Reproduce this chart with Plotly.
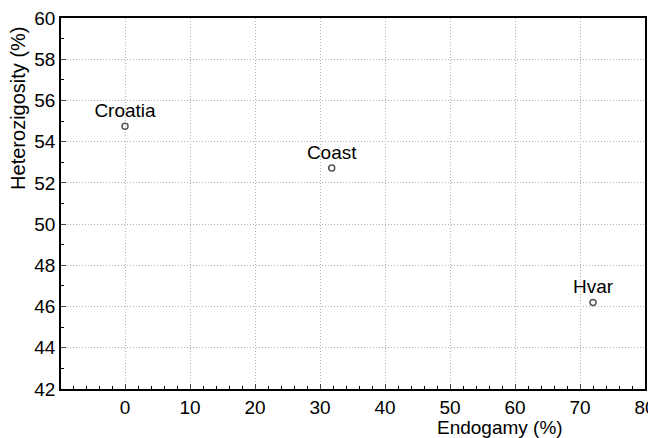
import plotly.graph_objects as go

regions = ["Croatia", "Coast", "Hvar"]
endogamy = [0.0, 31.8, 72.0]
heterozygosity = [54.75, 52.72, 46.2]

x_ticks = [0, 10, 20, 30, 40, 50, 60, 70, 80]
y_ticks = [42, 44, 46, 48, 50, 52, 54, 56, 58, 60]

x_title = "Endogamy (%)"
y_title = "Heterozigosity (%)"

fig = go.Figure()
fig.add_trace(go.Scatter(
    x=endogamy, y=heterozygosity, mode="markers+text",
    text=regions, textposition="top center",
    textfont=dict(family="Liberation Sans, Arial", size=19, color="black"),
    marker=dict(symbol="circle-open", size=6, color="#555555", line=dict(width=1.5)),
    showlegend=False,
))

font = dict(family="Liberation Sans, Arial", color="black")
fig.update_layout(
    width=648, height=430,
    margin=dict(l=53, r=11, t=10, b=49),
    paper_bgcolor="white", plot_bgcolor="white",
    font=font,
    xaxis=dict(
        range=[-9.85, 80], tickvals=x_ticks, ticks="inside", ticklen=5,
        tickfont=dict(size=19), showline=True, linecolor="black", linewidth=1.5,
        mirror=True, showgrid=True, gridcolor="#b0b0b0", griddash="1px,2px", gridwidth=1,
        zeroline=False, automargin=False, ticklabeloverflow="allow",
        minor=dict(dtick=2, ticks="inside", ticklen=3, tickcolor="black", showgrid=False),
    ),
    yaxis=dict(
        range=[42, 60], tickvals=y_ticks, ticks="inside", ticklen=5,
        tickfont=dict(size=19), showline=True, linecolor="black", linewidth=1.5,
        mirror=True, showgrid=True, gridcolor="#b0b0b0", griddash="1px,2px", gridwidth=1,
        zeroline=False, automargin=False, ticklabeloverflow="allow",
        minor=dict(dtick=1, ticks="inside", ticklen=3, tickcolor="black", showgrid=False),
    ),
    annotations=[
        dict(text=x_title, xref="paper", yref="paper", x=0.752, y=0, yshift=-38,
             xanchor="center", yanchor="middle", showarrow=False,
             font=dict(size=19, family="Liberation Sans, Arial", color="black")),
        dict(text=y_title, xref="paper", yref="paper", x=0, y=0.755, xshift=-43,
             xanchor="center", yanchor="middle", textangle=-90, showarrow=False,
             font=dict(size=20, family="Liberation Sans, Arial", color="black")),
    ],
)
fig.write_html("out.html")
